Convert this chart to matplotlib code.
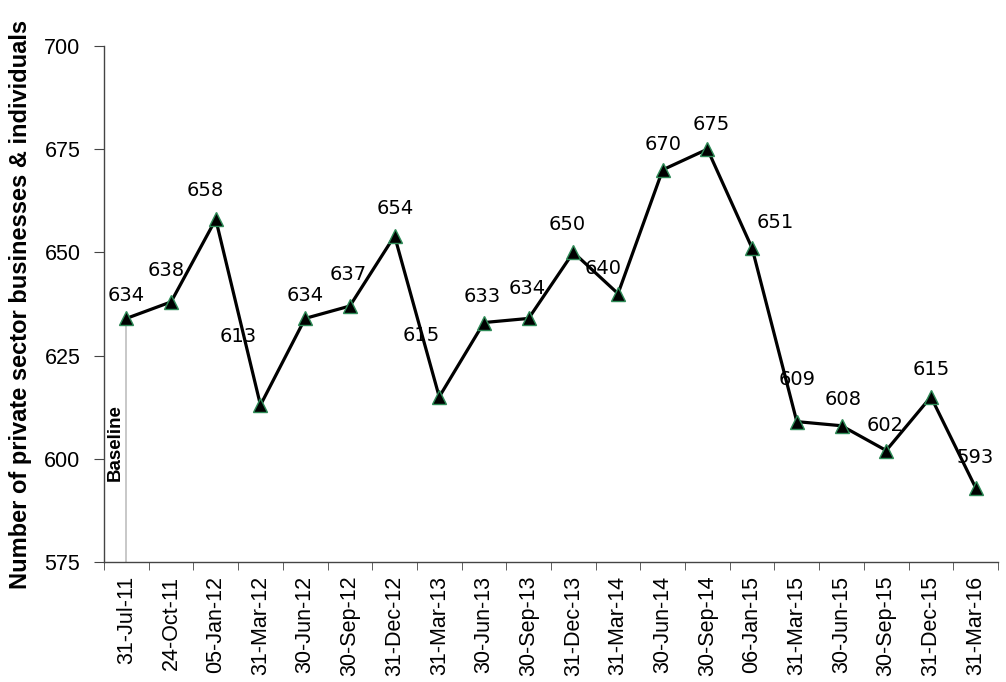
import numpy as np
from matplotlib import pyplot as plt

# data
dates = [
    "31-Jul-11", "24-Oct-11", "05-Jan-12", "31-Mar-12", "30-Jun-12",
    "30-Sep-12", "31-Dec-12", "31-Mar-13", "30-Jun-13", "30-Sep-13",
    "31-Dec-13", "31-Mar-14", "30-Jun-14", "30-Sep-14", "06-Jan-15",
    "31-Mar-15", "30-Jun-15", "30-Sep-15", "31-Dec-15", "31-Mar-16",
]
counts = [634, 638, 658, 613, 634, 637, 654, 615, 633, 634,
          650, 640, 670, 675, 651, 609, 608, 602, 615, 593]
yticks = [575, 600, 625, 650, 675, 700]

# label offsets (pixels, from point to label centre)
label_dx = [0, -5, -11, -22, 0, -2, 1, -18, -2, -1, -6, -15, 0, 4, 23, 0, 2, -1, 0, 0]
label_dy = [23, 31, 29, 69, 23, 32, 27, 61, 26, 30, 28, 25, 25, 25, 26, 42, 26, 25, 27, 30]

fig = plt.figure(figsize=(10.06, 6.82), dpi=100)
ax = fig.add_axes([0.1034, 0.176, 0.8886, 0.7566])

x = np.arange(len(dates))

# baseline marker
ax.plot([0, 0], [yticks[0], counts[0]], color="#bfbfbf", lw=1.2, zorder=1)
ax.text(-0.25, 604, "Baseline", rotation=90, ha="center", va="center",
        fontsize=13.5, fontweight="bold", family="Liberation Sans")

ax.plot(x, counts, color="black", lw=2.3, marker="^", ms=10.5,
        markerfacecolor="black", markeredgecolor="#2e8b57", markeredgewidth=1,
        zorder=3)

for xi, yi, dx, dy in zip(x, counts, label_dx, label_dy):
    ax.annotate(str(yi), (xi, yi), xytext=(dx, dy), textcoords="offset pixels",
                ha="center", va="center", fontsize=14, family="DejaVu Sans")

ax.set_xlim(-0.5, len(dates) - 0.5)
ax.set_ylim(yticks[0], yticks[-1])
ax.set_yticks(yticks)
ax.set_xticks(x)
ax.set_xticklabels(dates, rotation=90, fontsize=15.5, family="Liberation Sans")
ax.set_xticks(np.arange(len(dates) + 1) - 0.5, minor=True)
ax.tick_params(axis="x", which="major", length=0, pad=10)
ax.tick_params(axis="x", which="minor", length=6, color="#444444", direction="out")
ax.tick_params(axis="y", length=7, color="#444444", labelsize=15.5, pad=10)
for lab in ax.get_yticklabels():
    lab.set_family("Liberation Sans")

for side in ("top", "right"):
    ax.spines[side].set_visible(False)
for side in ("left", "bottom"):
    ax.spines[side].set_color("#444444")
    ax.spines[side].set_linewidth(1)

ax.set_ylabel("Number of private sector businesses & individuals",
              fontsize=17, fontweight="bold", family="Liberation Sans", labelpad=9)

fig.savefig("out.png", dpi=100)
